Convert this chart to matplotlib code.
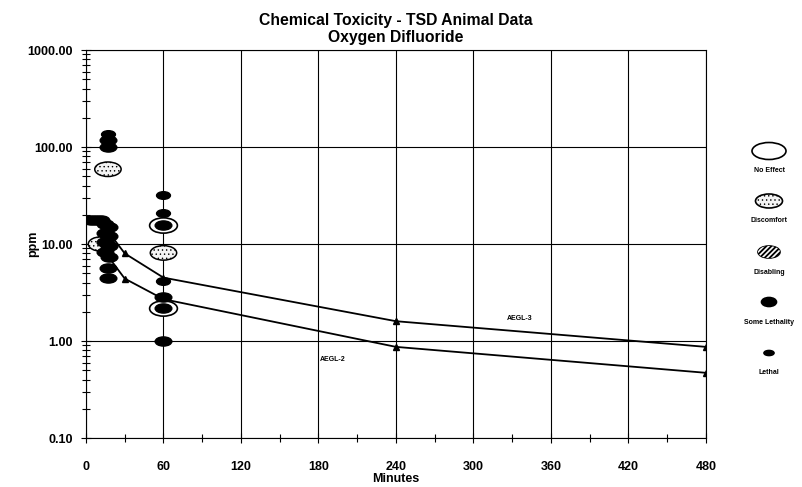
import numpy as np
import matplotlib
matplotlib.use("Agg")
import matplotlib.pyplot as plt
from matplotlib.path import Path
from matplotlib.transforms import Affine2D
from matplotlib.patches import Ellipse
from matplotlib.ticker import FixedLocator, LogLocator, FormatStrFormatter, NullFormatter

plt.rcParams['font.family'] = ['Liberation Sans', 'DejaVu Sans']
plt.rcParams['font.weight'] = 'bold'
plt.rcParams['hatch.linewidth'] = 0.5
plt.rcParams['hatch.color'] = '#999999'

# AEGL guideline lines (minutes, ppm)
aegl_times = [10, 30, 60, 240, 480]
aegl3 = [18, 8.0, 4.5, 1.6, 0.87]
aegl2 = [10, 4.4, 2.7, 0.87, 0.47]

# animal data points
no_effect_t = [60, 60]
no_effect_v = [15.7, 2.2]
discomfort_t = [17, 60, 12]
discomfort_v = [59, 8.1, 10]
some_leth_t = [4, 8, 12, 17, 17, 15, 18, 15, 18, 15, 18, 15, 18, 17, 17, 60, 60, 60, 60]
some_leth_v = [17.5, 17.5, 17.5, 118, 100, 16, 15, 13, 12, 10.5, 9.5, 8.3, 7.3, 5.7, 4.5,
               15.7, 2.84, 2.2, 1.0]
lethal_t = [17, 60, 60, 60]
lethal_v = [135, 32, 21, 4.2]

legend_labels = ['No Effect', 'Discomfort', 'Disabling', 'Some Lethality', 'Lethal']


def ellipse_marker(ratio):
    return Path.unit_circle().transformed(Affine2D().scale(1, ratio))


fig = plt.figure(figsize=(8.02, 4.87), dpi=100)
ax = fig.add_axes([0.1072, 0.1006, 0.7731, 0.7967])

ax.set_yscale('log')
ax.set_xlim(0, 480)
ax.set_ylim(0.1, 1000)

ax.plot(aegl_times, aegl3, color='black', lw=1.3, marker='^', ms=4, zorder=3)
ax.plot(aegl_times, aegl2, color='black', lw=1.3, marker='^', ms=4, zorder=3)

ax.scatter(no_effect_t, no_effect_v, marker=ellipse_marker(0.55), s=20**2,
           facecolor='white', edgecolor='black', linewidths=1.2, zorder=4)
ax.scatter(discomfort_t, discomfort_v, marker=ellipse_marker(0.55), s=19**2,
           facecolor='#f4f4f4', edgecolor='black', linewidths=1.1, hatch='....', zorder=4)
ax.scatter(some_leth_t, some_leth_v, marker=ellipse_marker(0.55), s=12**2,
           facecolor='black', edgecolor='black', zorder=5)
ax.scatter(lethal_t, lethal_v, marker=ellipse_marker(0.55), s=10**2,
           facecolor='black', edgecolor='black', zorder=5)

ax.text(336, 1.7, 'AEGL-3', fontsize=5, ha='center', va='center')
ax.text(191, 0.64, 'AEGL-2', fontsize=5, ha='center', va='center')

ax.xaxis.set_major_locator(FixedLocator(np.arange(0, 481, 60)))
ax.xaxis.set_minor_locator(FixedLocator(np.arange(30, 481, 60)))
ax.yaxis.set_major_locator(LogLocator(base=10, numticks=10))
ax.yaxis.set_minor_locator(LogLocator(base=10, subs=np.arange(2, 10), numticks=20))
ax.yaxis.set_major_formatter(FormatStrFormatter('%.2f'))
ax.yaxis.set_minor_formatter(NullFormatter())

ax.grid(True, which='major', color='black', lw=0.8)
ax.tick_params(which='both', direction='inout', labelsize=9, width=0.8)
ax.tick_params(which='major', length=7)
ax.tick_params(which='minor', length=6)
ax.tick_params(axis='x', pad=13)
ax.tick_params(axis='y', pad=6)
for lbl in ax.get_xticklabels() + ax.get_yticklabels():
    lbl.set_fontweight('bold')
for sp in ax.spines.values():
    sp.set_linewidth(0.8)

ax.set_xlabel('Minutes', fontsize=9, fontweight='bold', labelpad=0)
ax.set_ylabel('ppm', fontsize=9, fontweight='bold')
ax.yaxis.set_label_coords(-0.075, 0.5)
ax.set_title('Chemical Toxicity - TSD Animal Data\nOxygen Difluoride',
             fontsize=11.3, fontweight='bold', linespacing=1.15, pad=6)

# legend drawn in figure pixel space on the right
lg = fig.add_axes([0, 0, 1, 1], facecolor='none')
lg.set_xlim(0, 802)
lg.set_ylim(487, 0)
lg.axis('off')
leg_y = [151, 201, 252, 302, 353]
leg_w = [34, 27, 22, 15, 10]
leg_h = [17, 14, 12, 9, 5]
leg_fc = ['white', '#f4f4f4', 'black', 'black', 'black']
leg_hatch = [None, '....', None, None, None]
for y, w, h, fc, ht, name in zip(leg_y, leg_w, leg_h, leg_fc, leg_hatch, legend_labels):
    e = Ellipse((769, y), w, h, facecolor=fc, edgecolor='black', lw=1.2, hatch=ht)
    lg.add_patch(e)
    lg.text(769, y + 20, name, fontsize=5, ha='center', va='center')
    if name == 'Disabling':
        # white diagonal stripes clipped to the ellipse
        for off in range(-16, 17, 5):
            ln, = lg.plot([769 + off - 8, 769 + off + 8], [y + 8, y - 8],
                          color='white', lw=1.2)
            ln.set_clip_path(e)

fig.savefig('out.png', dpi=100)
